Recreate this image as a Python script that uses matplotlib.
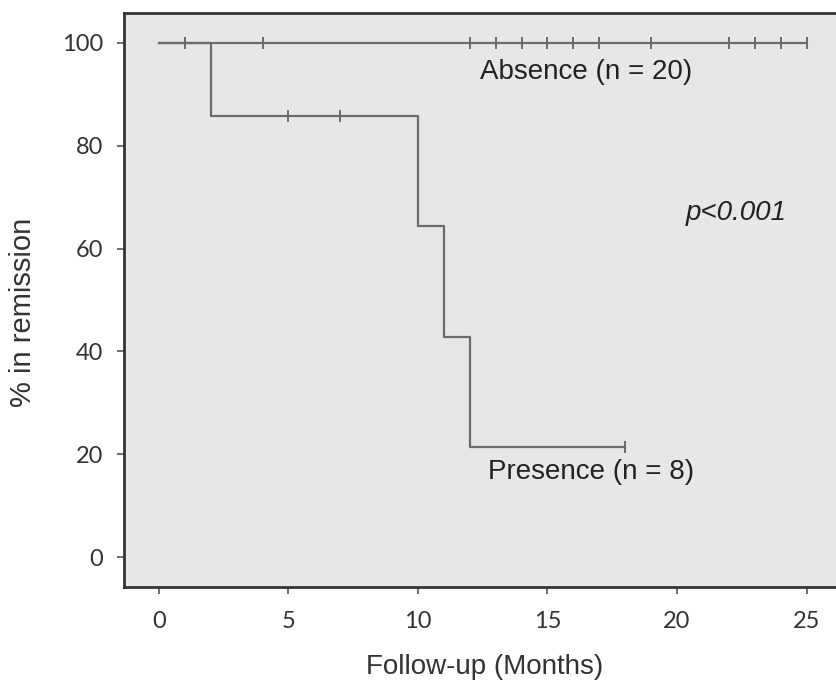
import matplotlib
matplotlib.use("Agg")
import matplotlib.pyplot as plt

# Kaplan-Meier data
absence_times = [0, 25]
absence_surv = [100, 100]
absence_censor = [1, 4, 12, 13, 14, 15, 16, 17, 19, 22, 23, 24, 25]

presence_times = [0, 2, 10, 11, 12, 18]
presence_surv = [100, 85.7, 64.3, 42.9, 21.4, 21.4]
presence_censor_t = [5, 7, 18]
presence_censor_s = [85.7, 85.7, 21.4]

xticks = [0, 5, 10, 15, 20, 25]
yticks = [0, 20, 40, 60, 80, 100]

line_col = "#6b6b6b"

fig = plt.figure(figsize=(8.37, 6.81), dpi=100)
ax = fig.add_axes([124 / 837, 94 / 681, 1 - 124 / 837 + 0.01, 574 / 681])
ax.set_facecolor("#e7e7e7")

ax.step(absence_times, absence_surv, where="post", color=line_col, lw=1.6)
ax.plot(absence_censor, [100] * len(absence_censor), ls="none", marker="|",
        ms=8, mew=1.4, color=line_col)

ax.step(presence_times, presence_surv, where="post", color=line_col, lw=1.6)
ax.plot(presence_censor_t, presence_censor_s, ls="none", marker="|",
        ms=8, mew=1.4, color=line_col)

ax.set_xlim(-1.35, 26.5)
ax.set_ylim(-5.8, 105.8)
ax.set_xticks(xticks)
ax.set_yticks(yticks)
ax.tick_params(direction="out", length=5, width=1.2, color="#555555",
               labelsize=17, labelcolor="#333333")
ax.tick_params(axis="x", pad=12)
ax.tick_params(axis="y", pad=10)
for lab in ax.get_xticklabels() + ax.get_yticklabels():
    lab.set_family("Lato")

for side in ["left", "bottom", "top"]:
    ax.spines[side].set_linewidth(2)
    ax.spines[side].set_color("#333333")
ax.spines["right"].set_visible(False)

ax.text(12.4, 94.3, "Absence (n = 20)", fontsize=20, family="Liberation Sans",
        color="#222222", va="center")
ax.text(12.7, 16.5, "Presence (n = 8)", fontsize=20, family="Liberation Sans",
        color="#222222", va="center")
ax.text(20.35, 66.9, "p<0.001", fontsize=20, family="Liberation Sans",
        style="italic", color="#222222", va="center")

ax.set_xlabel("Follow-up (Months)", fontsize=20, family="Liberation Sans",
              color="#333333", labelpad=16)
ax.set_ylabel("% in remission", fontsize=21, family="Liberation Sans",
              color="#333333")
ax.yaxis.set_label_coords(-0.12, 0.479)

fig.savefig("out.png", dpi=100)
